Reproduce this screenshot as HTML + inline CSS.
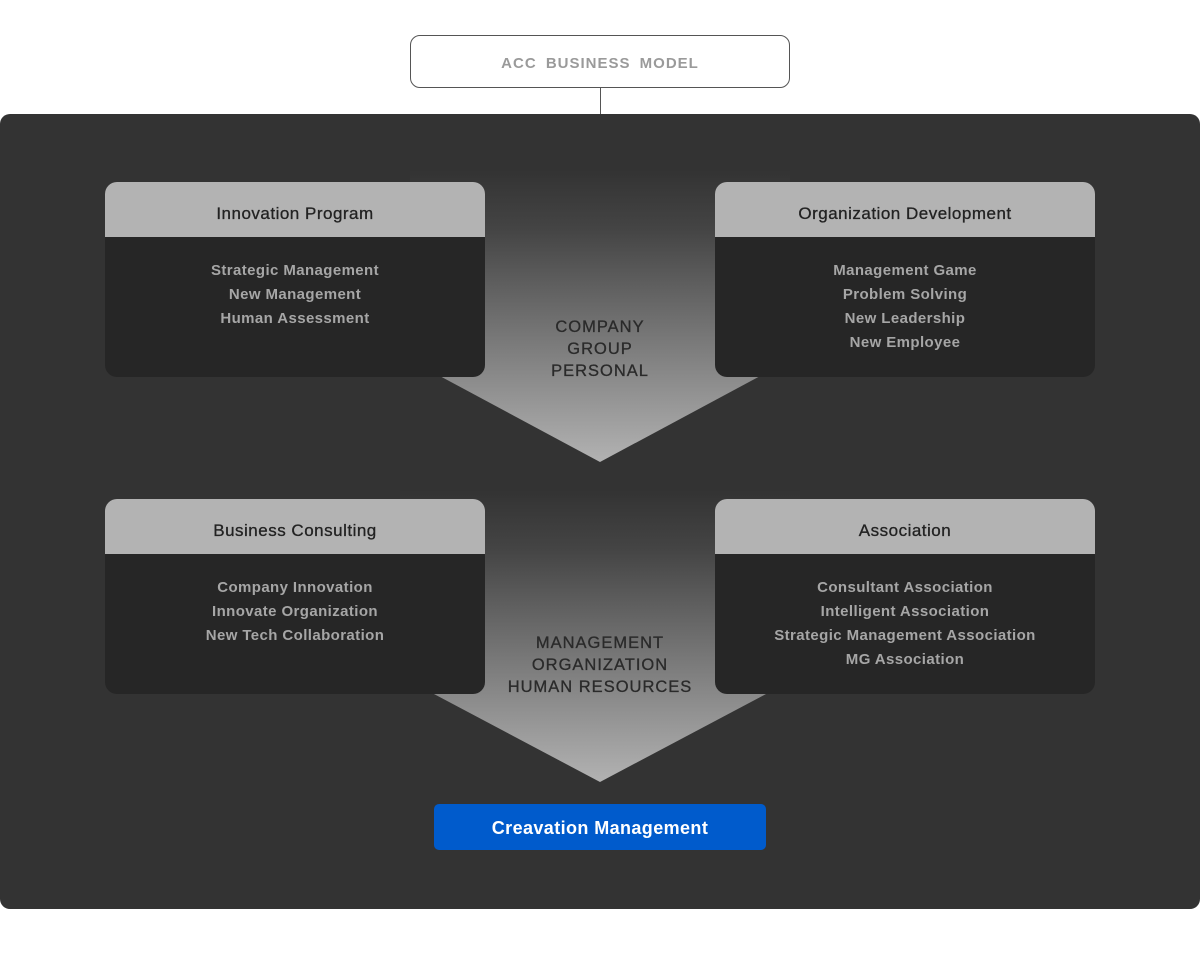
<!DOCTYPE html>
<html><head><style>
body{margin:0;width:1200px;height:960px;background:#fff;font-family:"Liberation Sans",sans-serif;position:relative;overflow:hidden}
.title{position:absolute;left:410px;top:35px;width:378px;height:51px;border:1px solid #555;border-radius:10px;text-align:center;line-height:55px;color:#9a9a9a;font-size:15px;font-weight:bold;letter-spacing:1px;word-spacing:4px}
.vline{position:absolute;left:600px;top:88px;width:1px;height:26px;background:#555}
.panel{position:absolute;left:0;top:114px;width:1200px;height:795px;background:#333;border-radius:10px}
svg{position:absolute;left:0;top:0}
.box{position:absolute;width:380px;height:195px;background:#262626;border-radius:12px;overflow:hidden}
.box .h{height:55px;background:#b3b3b3;color:#222;font-size:17px;text-align:center;line-height:63px;letter-spacing:0.5px;-webkit-text-stroke:0.3px #222}
.box .b{padding-top:22px;text-align:center;color:#a6a6a6;font-size:15px;font-weight:bold;line-height:24px;letter-spacing:0.4px}
.lab{position:absolute;width:300px;text-align:center;color:#2a2a2a;font-size:16.5px;line-height:22px;letter-spacing:1px;-webkit-text-stroke:0.3px #2a2a2a}
.btn{position:absolute;left:434px;top:804px;width:332px;height:46px;background:#005bcc;border-radius:5px;color:#fff;font-weight:bold;font-size:18px;text-align:center;line-height:48px;letter-spacing:0.4px}
</style></head><body>
<div class="title">ACC BUSINESS MODEL</div>
<div class="vline"></div>
<div class="panel"></div>
<svg width="1200" height="960">
<defs>
<linearGradient id="g1" x1="0" y1="170" x2="0" y2="462" gradientUnits="userSpaceOnUse">
<stop offset="0" stop-color="#333"/><stop offset="0.2" stop-color="#444"/><stop offset="1" stop-color="#b2b2b2"/></linearGradient>
<linearGradient id="g2" x1="0" y1="490" x2="0" y2="782" gradientUnits="userSpaceOnUse">
<stop offset="0" stop-color="#333"/><stop offset="0.2" stop-color="#444"/><stop offset="1" stop-color="#b2b2b2"/></linearGradient>
</defs>
<polygon points="410,170 790,170 790,360 600,462 410,360" fill="url(#g1)"/>
<polygon points="400,490 800,490 800,676 600,782 400,676" fill="url(#g2)"/>
</svg>
<div class="box" style="left:105px;top:182px"><div class="h">Innovation Program</div><div class="b">Strategic Management<br>New Management<br>Human Assessment</div></div>
<div class="box" style="left:715px;top:182px"><div class="h">Organization Development</div><div class="b">Management Game<br>Problem Solving<br>New Leadership<br>New Employee</div></div>
<div class="box" style="left:105px;top:499px"><div class="h">Business Consulting</div><div class="b">Company Innovation<br>Innovate Organization<br>New Tech Collaboration</div></div>
<div class="box" style="left:715px;top:499px"><div class="h">Association</div><div class="b">Consultant Association<br>Intelligent Association<br>Strategic Management Association<br>MG Association</div></div>
<div class="lab" style="left:450px;top:316px">COMPANY<br>GROUP<br>PERSONAL</div>
<div class="lab" style="left:450px;top:632px">MANAGEMENT<br>ORGANIZATION<br>HUMAN RESOURCES</div>
<div class="btn">Creavation Management</div>
</body></html>
